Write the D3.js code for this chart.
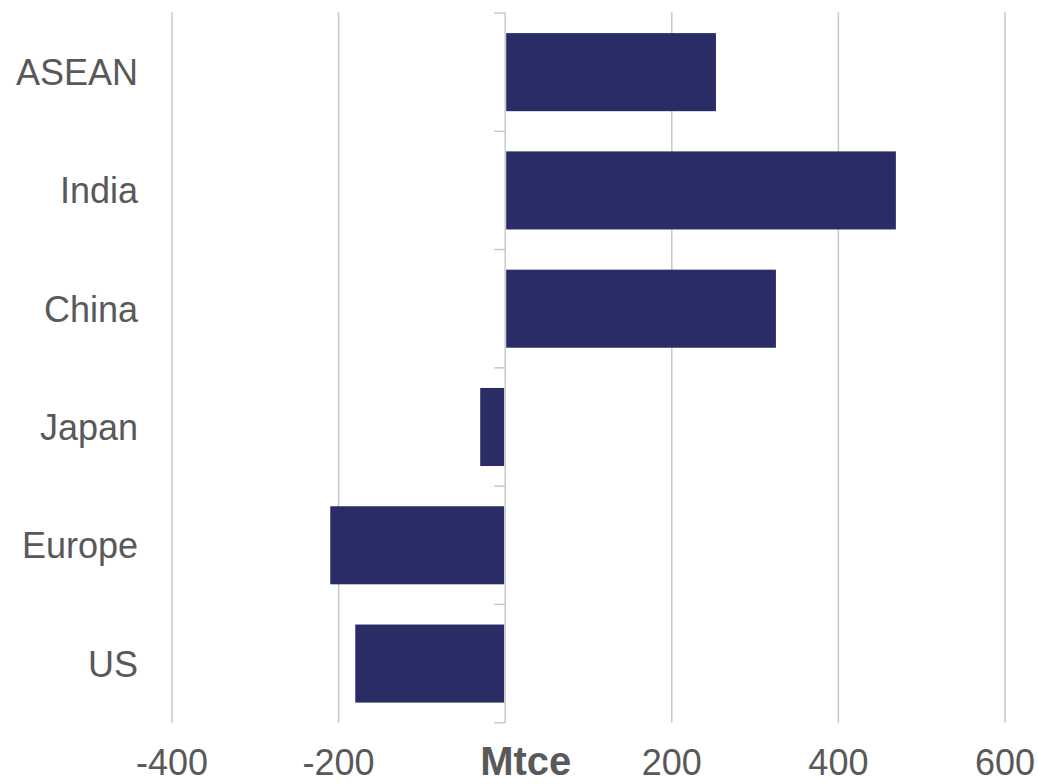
<!DOCTYPE html>
<html>
<head>
<meta charset="utf-8">
<script src="https://cdn.jsdelivr.net/npm/d3@7"></script>
<style>
  html, body { margin: 0; padding: 0; background: #ffffff; }
  svg { display: block; }
</style>
</head>
<body>
<svg id="chart" width="1038" height="784"></svg>
<script>
// Change in coal demand by region (Mtce)
const categories = ["ASEAN", "India", "China", "Japan", "Europe", "US"];
const values = [253, 469, 325, -30, -210, -180];
const tickValues = [-400, -200, 200, 400, 600];
const unitLabel = "Mtce";

const width = 1038, height = 784;
const plot = { left: 172, right: 1005, top: 13, bottom: 722.7 };

const textColor = "#595959";
const gridColor = "#c9c9c9";
const barColor = "#2a2c66";

const svg = d3.select("#chart");

const x = d3.scaleLinear()
  .domain([-400, 600])
  .range([plot.left, plot.right]);

const y = d3.scaleBand()
  .domain(categories)
  .range([plot.top, plot.bottom])
  .paddingInner(0.34)
  .paddingOuter(0.17);

// vertical gridlines
svg.append("g")
  .selectAll("line")
  .data(tickValues)
  .join("line")
  .attr("x1", d => x(d)).attr("x2", d => x(d))
  .attr("y1", plot.top - 1).attr("y2", plot.bottom)
  .attr("stroke", gridColor)
  .attr("stroke-width", 1.5);

// bars
svg.append("g")
  .selectAll("rect")
  .data(categories.map((c, i) => ({ c, v: values[i] })))
  .join("rect")
  .attr("x", d => d.v >= 0 ? x(0) + 1 : x(d.v))
  .attr("width", d => d.v >= 0 ? x(d.v) - x(0) - 1 : x(0) - x(d.v) - 1)
  .attr("y", d => y(d.c))
  .attr("height", y.bandwidth())
  .attr("fill", barColor);

// zero axis with category boundary ticks
const step = y.step();
const boundaries = d3.range(categories.length + 1).map(i => plot.top + i * step);
const axisG = svg.append("g");
axisG.append("line")
  .attr("x1", x(0)).attr("x2", x(0))
  .attr("y1", plot.top).attr("y2", plot.bottom)
  .attr("stroke", gridColor)
  .attr("stroke-width", 1.5);
axisG.selectAll("line.tick")
  .data(boundaries)
  .join("line")
  .attr("class", "tick")
  .attr("x1", x(0) - 11).attr("x2", x(0))
  .attr("y1", d => d).attr("y2", d => d)
  .attr("stroke", gridColor)
  .attr("stroke-width", 1.5);

// category labels
svg.append("g")
  .selectAll("text")
  .data(categories)
  .join("text")
  .attr("x", 138)
  .attr("y", d => y(d) + y.bandwidth() / 2)
  .attr("dy", "0.36em")
  .attr("text-anchor", "end")
  .attr("font-family", "Liberation Sans, Arial, sans-serif")
  .attr("font-size", 36)
  .attr("fill", textColor)
  .text(d => d);

// value axis labels
svg.append("g")
  .selectAll("text")
  .data(tickValues)
  .join("text")
  .attr("x", d => x(d))
  .attr("y", 775)
  .attr("text-anchor", "middle")
  .attr("font-family", "Liberation Sans, Arial, sans-serif")
  .attr("font-size", 36)
  .attr("fill", textColor)
  .text(d => String(d));

// unit label in place of zero tick
svg.append("text")
  .attr("x", x(0) - 25)
  .attr("y", 775)
  .attr("text-anchor", "start")
  .attr("font-family", "Liberation Sans, Arial, sans-serif")
  .attr("font-weight", "bold")
  .attr("font-size", 40)
  .attr("fill", textColor)
  .text(unitLabel);
</script>
</body>
</html>
